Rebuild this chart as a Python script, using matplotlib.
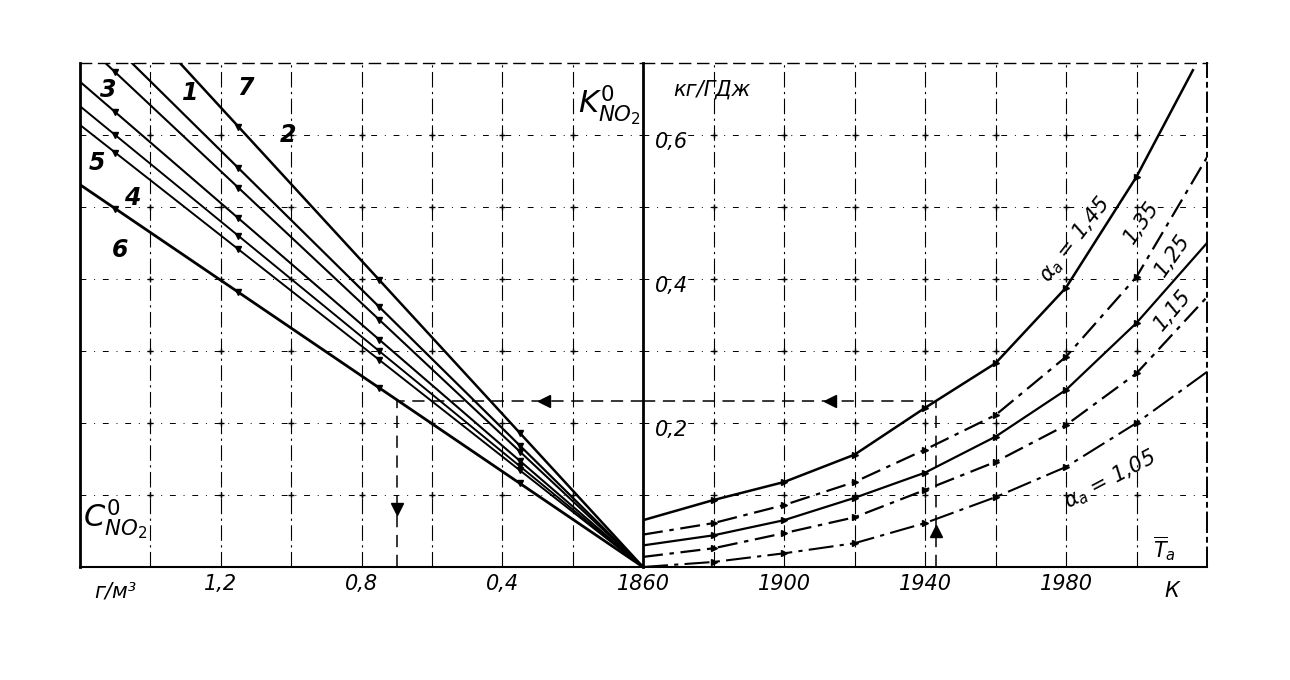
import numpy as np
import matplotlib
matplotlib.use("Agg")
import matplotlib.pyplot as plt

# ---- data ----
# left part: straight lines K = slope * C, given as K at C = 1.6
line_k_at_16 = [0.851, 0.771, 0.733, 0.674, 0.640, 0.614, 0.531]
line_widths = [1.8, 1.6, 1.5, 1.5, 1.4, 1.4, 2.0]

number_labels = ["3", "1", "7", "2", "5", "4", "6"]
number_c = [1.52, 1.287, 1.131, 1.009, 1.551, 1.452, 1.486]
number_k = [0.662, 0.658, 0.665, 0.600, 0.561, 0.512, 0.440]

# right part: K vs T for several alpha values
t_grid = [1860, 1880, 1900, 1920, 1940, 1960, 1980, 2000, 2020]
t_145 = [1860, 1880, 1900, 1920, 1940, 1960, 1980, 2000, 2016]
k_145 = [0.065, 0.093, 0.118, 0.156, 0.221, 0.283, 0.388, 0.542, 0.690]
k_135 = [0.045, 0.061, 0.086, 0.118, 0.163, 0.211, 0.292, 0.403, 0.569]
k_125 = [0.030, 0.044, 0.065, 0.096, 0.131, 0.181, 0.246, 0.339, 0.450]
k_115 = [0.014, 0.026, 0.047, 0.069, 0.107, 0.146, 0.197, 0.269, 0.375]
k_105 = [0.000, 0.007, 0.019, 0.033, 0.061, 0.097, 0.139, 0.200, 0.271]

# example path (dashed, with arrows)
t_ex, k_ex, c_ex = 1943, 0.23, 0.70

c_grid = [0, 0.2, 0.4, 0.6, 0.8, 1.0, 1.2, 1.4, 1.6]
c_tick_labels = ["", "", "0,4", "", "0,8", "", "1,2", "", ""]
t_tick_labels = ["1860", "", "1900", "", "1940", "", "1980", "", ""]
k_grid = [0, 0.1, 0.2, 0.3, 0.4, 0.5, 0.6, 0.7]

fig = plt.figure(figsize=(12.9, 6.8), dpi=100)
ax1 = fig.add_axes([80 / 1290, 113 / 680, 563 / 1290, 504 / 680])
ax2 = fig.add_axes([643 / 1290, 113 / 680, 564 / 1290, 504 / 680])

ax1.set_xlim(1.6, 0)
ax1.set_ylim(0, 0.7)
ax2.set_xlim(1860, 2020)
ax2.set_ylim(0, 0.7)

vgrid = dict(color="black", lw=0.8, ls=(0, (14, 4, 2, 4)))
hgrid = dict(color="black", lw=0.7, ls=(0, (6, 8, 1, 8)))

for ax, xs in ((ax1, c_grid), (ax2, t_grid)):
    for x in xs[1:-1]:
        ax.axvline(x, **vgrid)
    for k in k_grid[1:-1]:
        ax.axhline(k, **hgrid)
    gx, gy = np.meshgrid(xs[1:-1], k_grid[1:-1])
    ax.scatter(gx.ravel(), gy.ravel(), marker="+", s=25, c="black", lw=1, zorder=3)
    ax.set_yticks([])
    ax.tick_params(axis="x", length=0, pad=5, labelsize=15)
    ax.spines["top"].set_linestyle((0, (8, 5)))
    ax.spines["top"].set_linewidth(1)

ax1.spines["right"].set_visible(False)
ax1.spines["left"].set_linewidth(2)
ax1.spines["bottom"].set_linewidth(1.5)
ax2.spines["left"].set_linewidth(2)
ax2.spines["bottom"].set_linewidth(1.5)
ax2.spines["right"].set_linestyle((0, (10, 3, 2, 3)))
ax2.spines["right"].set_linewidth(1.4)

ax1.set_xticks(c_grid)
ax1.set_xticklabels(c_tick_labels, style="italic")
ax2.set_xticks(t_grid)
ax2.set_xticklabels(t_tick_labels, style="italic")

# left nomogram lines
c_line = np.array([0, 1.6])
mark_c = np.array([0.35, 0.75, 1.15, 1.5])
for k16, lw in zip(line_k_at_16, line_widths):
    slope = k16 / 1.6
    ax1.plot(c_line, slope * c_line, color="black", lw=lw)
    mc = mark_c[slope * mark_c < 0.69]
    ax1.plot(mc, slope * mc, ls="none", marker="v", ms=4, color="black")

for lab, c, k in zip(number_labels, number_c, number_k):
    ax1.text(c, k, lab, fontsize=17, style="italic", fontweight="bold",
             ha="center", va="center")

# right curves
curve_styles = [
    (t_145, k_145, "-", 1.8),
    (t_grid, k_135, (0, (9, 3, 2, 3)), 1.6),
    (t_grid, k_125, "-", 1.6),
    (t_grid, k_115, (0, (9, 3, 2, 3)), 1.6),
    (t_grid, k_105, (0, (12, 3, 2, 3)), 1.5),
]
for ts, ks, ls, lw in curve_styles:
    ax2.plot(ts, ks, color="black", ls=ls, lw=lw)
    ax2.plot(ts[1:-1], ks[1:-1], ls="none", marker=">", ms=4, color="black")

lab_kw = dict(fontsize=15, style="italic", ha="center", va="center")
ax2.text(1982.6, 0.454, r"$\alpha_a$ = 1,45", rotation=52, **lab_kw)
ax2.text(2001.5, 0.478, "1,35", rotation=55, **lab_kw)
ax2.text(2010.4, 0.433, "1,25", rotation=55, **lab_kw)
ax2.text(2010.4, 0.357, "1,15", rotation=50, **lab_kw)
ax2.text(1992.5, 0.121, r"$\alpha_a$ = 1,05", rotation=28, **lab_kw)
ax2.text(2008, 0.026, r"$\overline{T}_a$", fontsize=15, ha="center", va="center")

# example path
dash = dict(color="black", lw=1.1, ls=(0, (8, 5)))
ax2.plot([t_ex, t_ex], [0, k_ex], **dash)
ax2.plot([1860, t_ex], [k_ex, k_ex], **dash)
ax1.plot([0, c_ex], [k_ex, k_ex], **dash)
ax1.plot([c_ex, c_ex], [0, k_ex], **dash)
ax2.plot([t_ex], [0.05], marker="^", ms=8, color="black")
ax2.plot([1913], [k_ex], marker="<", ms=8, color="black")
ax1.plot([0.28], [k_ex], marker="<", ms=8, color="black")
ax1.plot([c_ex], [0.08], marker="v", ms=8, color="black")

# axis titles and units
ax1.text(0.094, 0.64, r"$K^0_{NO_2}$", fontsize=22, ha="center", va="center")
ax1.text(1.5, 0.065, r"$C^0_{NO_2}$", fontsize=22, ha="center", va="center")
ax2.text(1879.6, 0.663, "кг/ГДж", fontsize=15, style="italic", ha="center", va="center")
for k, lab in ((0.59, "0,6"), (0.39, "0,4"), (0.19, "0,2")):
    ax2.text(1868, k, lab, fontsize=15, style="italic", ha="center", va="center")
ax1.text(1.5, -0.02, "г/м³", fontsize=15, style="italic", ha="center", va="top")
ax2.text(2010, -0.02, "К", fontsize=15, style="italic", ha="center", va="top")

fig.savefig("out.png", dpi=100)
